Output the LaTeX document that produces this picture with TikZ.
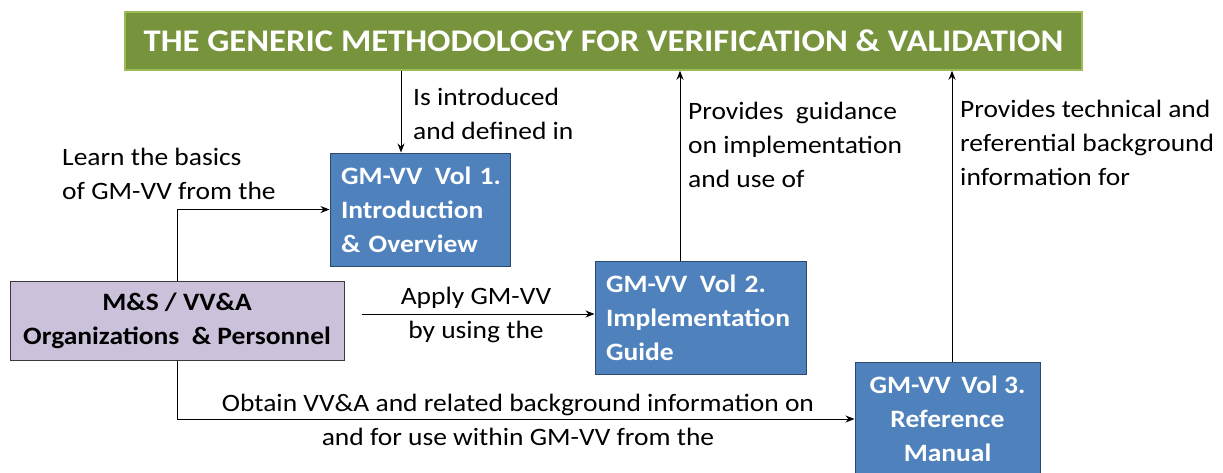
\documentclass[tikz,border=0pt]{standalone}
\usepackage{fontspec}
\setmainfont{Carlito}[FakeStretch=1.1]
\usetikzlibrary{arrows.meta,calc}
\definecolor{titlefill}{HTML}{77933C}
\definecolor{titleedge}{HTML}{9BBB59}
\definecolor{volfill}{HTML}{4F81BD}
\definecolor{voledge}{HTML}{2C4A70}
\definecolor{orgfill}{HTML}{CCC1DA}
\definecolor{orgedge}{HTML}{3A3A3A}
\tikzset{
  titlebox/.style={draw=titleedge, line width=1.5pt, fill=titlefill, text=white,
    font=\fontsize{31.5}{36}\selectfont\bfseries, inner sep=0pt},
  volbox/.style={draw=voledge, line width=1pt, fill=volfill, text=white,
    font=\fontsize{25}{34}\selectfont\bfseries, inner sep=0pt},
  orgbox/.style={draw=orgedge, line width=1pt, fill=orgfill, text=black,
    font=\fontsize{25}{34}\selectfont\bfseries, inner sep=0pt, align=center},
  lbl/.style={inner sep=0pt, font=\fontsize{25}{34}\selectfont},
  arr/.style={line width=0.9pt, -{Stealth[length=9pt,width=7pt]}}
}
\begin{document}
\begin{tikzpicture}[x=1pt,y=-1pt]
\useasboundingbox (0,0) rectangle (1223,472);
\fill[white] (0,0) rectangle (1223,472);

% boxes
\node[titlebox, minimum width=957pt, minimum height=58pt] (title) at (603.5,41)
  {THE GENERIC METHODOLOGY FOR VERIFICATION \& VALIDATION};
\node[volbox, minimum width=180pt, minimum height=113pt, text width=158pt, align=left]
  (vol1) at (420,209.5) {\mbox{GM-VV\,\ Vol 1.}\\Introduction\\\& Overview};
\node[volbox, minimum width=211pt, minimum height=113pt, text width=189pt, align=left]
  (vol2) at (700.5,317.5) {\mbox{GM-VV\,\ Vol 2.}\\Implementation\\Guide};
\node[volbox, minimum width=185pt, minimum height=114pt, align=center]
  (vol3) at (947.5,419) {GM-VV\,\ Vol 3.\\Reference\\Manual};
\node[orgbox, minimum width=334pt, minimum height=79pt]
  (org) at (177,320.5) {M\&S / VV\&A\\Organizations\ \ \& Personnel};

% connector end points
\coordinate (in1) at ([xshift=-19pt]vol1.north);
\coordinate (out2) at ([xshift=-20.5pt]vol2.north);
\coordinate (out3) at ([xshift=4.5pt]vol3.north);
\coordinate (applystart) at (362,314);

% connectors
\draw[arr] (title.south -| in1) -- (in1);
\draw[arr] (out2) -- (title.south -| out2);
\draw[arr] (out3) -- (title.south -| out3);
\draw[arr] (org.north) |- (vol1.west);
\draw[arr] (applystart) -- (applystart -| vol2.west);
\draw[arr] (org.south) |- (vol3.west);

% connector labels
\node[lbl, anchor=north west, align=left] (l1) at (413,88) {Is introduced\\and defined in};
\node[lbl, anchor=north west, align=left] (l2) at (688,102) {Provides\ \ guidance\\on implementation\\and use of};
\node[lbl, anchor=north west, align=left] (l3) at (960,100) {Provides technical and\\referential background\\information for};
\node[lbl, anchor=north west, align=left] (l4) at (62,148) {Learn the basics\\of GM-VV from the};
\node[lbl, anchor=north, align=center] (l5) at (476,287) {Apply GM-VV\\by using the};
\node[lbl, anchor=north, align=center] (l6) at (518,394) {Obtain VV\&A and related background information on\\and for use within GM-VV from the};
\end{tikzpicture}
\end{document}
